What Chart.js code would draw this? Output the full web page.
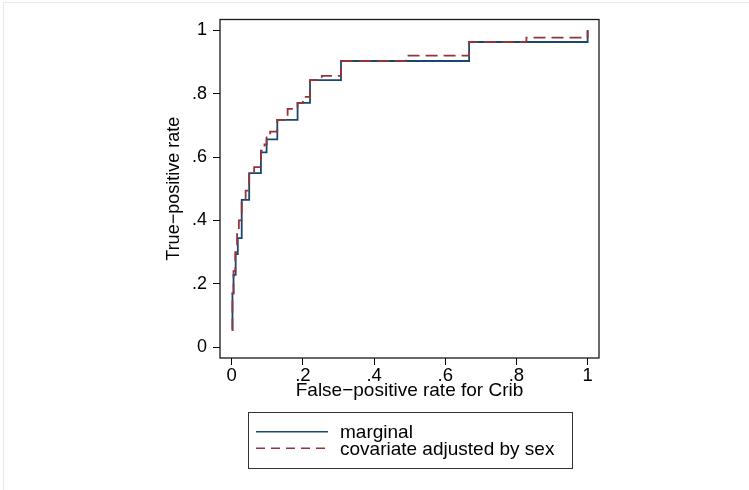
<!DOCTYPE html>
<html>
<head>
<meta charset="utf-8">
<script src="https://cdn.jsdelivr.net/npm/chart.js@4"></script>
<style>
  html, body { margin: 0; padding: 0; background: #fff; }
  #wrap { position: relative; width: 749px; height: 490px; overflow: hidden; }
  #frame { position: absolute; left: 3px; top: 2px; width: 900px; height: 700px; border: 1px solid #e3ecec; }
  canvas { position: absolute; left: 0; top: 0; }
</style>
</head>
<body>
<div id="wrap">
  <div id="frame"></div>
  <canvas id="roc" width="749" height="490"></canvas>
</div>
<script>
(function () {
  // ROC step vertices (false-positive rate, true-positive rate)
  const marginalFpr = [0, 0.002, 0.005, 0.011, 0.017, 0.028, 0.049, 0.082, 0.098, 0.128, 0.185, 0.22, 0.307, 0.667, 1.0];
  const marginalTpr = [0.055, 0.17, 0.228, 0.294, 0.344, 0.465, 0.549, 0.615, 0.656, 0.717, 0.771, 0.843, 0.903, 0.963, 1.0];

  const adjustedFpr = [0, 0.002, 0.005, 0.01, 0.015, 0.02, 0.028, 0.039, 0.049, 0.063, 0.082, 0.092, 0.098, 0.108, 0.128, 0.157, 0.185, 0.2, 0.22, 0.253, 0.307, 0.489, 0.667, 0.828, 1.0];
  const adjustedTpr = [0.055, 0.17, 0.24, 0.30, 0.36, 0.40, 0.465, 0.494, 0.549, 0.568, 0.62, 0.64, 0.662, 0.68, 0.717, 0.752, 0.771, 0.79, 0.843, 0.856, 0.903, 0.92, 0.963, 0.977, 1.0];

  const tickVals = [0, 0.2, 0.4, 0.6, 0.8, 1];
  const seriesLabels = ['marginal', 'covariate adjusted by sex'];

  const FONT = '"Liberation Sans", Arial, Helvetica, sans-serif';

  function pts(xs, ys) {
    return xs.map((x, i) => ({ x: x, y: ys[i] }));
  }

  function fmt(v) {
    if (v === 0) return '0';
    if (v === 1) return '1';
    return String(Math.round(v * 10) / 10).replace(/^0/, '');
  }

  const plotFrame = {
    id: 'plotFrame',
    afterDraw(chart) {
      const a = chart.chartArea;
      const ctx = chart.ctx;
      ctx.save();
      ctx.strokeStyle = '#1a1a1a';
      ctx.lineWidth = 1.3;
      ctx.strokeRect(a.left, a.top, a.right - a.left, a.bottom - a.top);
      ctx.restore();
    }
  };

  const legendBox = {
    id: 'legendBox',
    afterDraw(chart) {
      const ctx = chart.ctx;
      ctx.save();
      ctx.strokeStyle = '#333';
      ctx.lineWidth = 1;
      ctx.strokeRect(248.5, 412.5, 324, 56);
      chart.data.datasets.forEach((ds, i) => {
        const y = 431.7 + i * 16.6;
        ctx.beginPath();
        ctx.setLineDash(i === 1 ? [9, 6] : []);
        ctx.strokeStyle = ds.borderColor;
        ctx.lineWidth = 1.4;
        ctx.moveTo(256, y);
        ctx.lineTo(328, y);
        ctx.stroke();
        ctx.setLineDash([]);
        ctx.fillStyle = '#000';
        ctx.font = '19px ' + FONT;
        ctx.textBaseline = 'middle';
        ctx.fillText(ds.label, 340, y + 1);
      });
      ctx.restore();
    }
  };

  new Chart(document.getElementById('roc').getContext('2d'), {
    type: 'scatter',
    data: {
      datasets: [
        {
          label: seriesLabels[0],
          data: pts(marginalFpr, marginalTpr),
          showLine: true,
          stepped: 'before',
          borderColor: '#1a476f',
          borderWidth: 1.8,
          pointRadius: 0,
          order: 2
        },
        {
          label: seriesLabels[1],
          data: pts(adjustedFpr, adjustedTpr),
          showLine: true,
          stepped: 'before',
          borderColor: '#90353b',
          borderWidth: 1.8,
          borderDash: [12, 6],
          pointRadius: 0,
          order: 1
        }
      ]
    },
    options: {
      responsive: false,
      animation: false,
      layout: { padding: { top: 19.5, right: 150, left: 160, bottom: 85 } },
      plugins: { legend: { display: false }, tooltip: { enabled: false } },
      scales: {
        x: {
          type: 'linear',
          min: -0.033,
          max: 1.032,
          afterBuildTicks: s => { s.ticks = tickVals.map(v => ({ value: v })); },
          afterFit: s => { s.height = 47; },
          grid: { drawOnChartArea: false, drawTicks: true, tickLength: 7, color: '#000', lineWidth: 1 },
          border: { display: false },
          ticks: { color: '#000', font: { family: FONT, size: 18.5 }, padding: 0, maxRotation: 0, callback: v => fmt(v) },
          title: { display: true, text: 'False\u2212positive rate for Crib', color: '#000', font: { family: FONT, size: 19 }, padding: { top: 0, bottom: 3 } }
        },
        y: {
          type: 'linear',
          min: -0.034,
          max: 1.034,
          afterBuildTicks: s => { s.ticks = tickVals.map(v => ({ value: v })); },
          afterFit: s => { s.width = 60; },
          grid: { drawOnChartArea: false, drawTicks: true, tickLength: 7, color: '#000', lineWidth: 1 },
          border: { display: false },
          ticks: { color: '#000', font: { family: FONT, size: 18 }, padding: 6, callback: v => fmt(v) },
          title: { display: true, text: 'True\u2212positive rate', color: '#000', font: { family: FONT, size: 18 }, padding: { top: 3, bottom: 0 } }
        }
      }
    },
    plugins: [plotFrame, legendBox]
  });
})();
</script>
</body>
</html>
